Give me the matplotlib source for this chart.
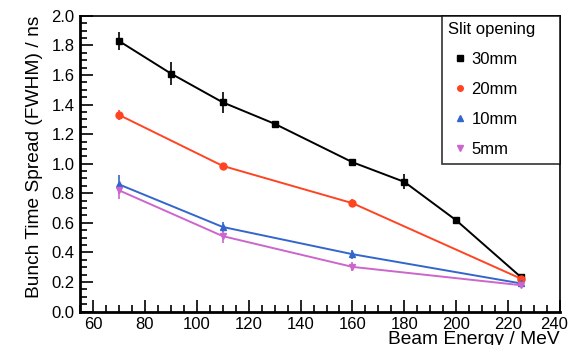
import matplotlib
matplotlib.use("Agg")
import matplotlib.pyplot as plt
import matplotlib.transforms as mtransforms
from matplotlib.ticker import MultipleLocator

plt.rcParams['font.family'] = ['Liberation Sans', 'DejaVu Sans']

# beam energy (MeV) and bunch time spread (ns) per slit opening
e_30 = [70, 90, 110, 130, 160, 180, 200, 225]
t_30 = [1.83, 1.61, 1.415, 1.27, 1.01, 0.877, 0.617, 0.232]
err_30 = [0.06, 0.075, 0.07, 0.012, 0.02, 0.05, 0.012, 0.02]

e_20 = [70, 110, 160, 225]
t_20 = [1.33, 0.985, 0.733, 0.222]
err_20 = [0.035, 0.018, 0.025, 0.02]

e_10 = [70, 110, 160, 225]
t_10 = [0.86, 0.572, 0.388, 0.19]
err_10 = [0.065, 0.035, 0.03, 0.015]

e_5 = [70, 110, 160, 225]
t_5 = [0.82, 0.51, 0.302, 0.178]
err_5 = [0.06, 0.045, 0.03, 0.015]

labels = ["30mm", "20mm", "10mm", "5mm"]
colors = ["black", "#ff4422", "#3366cc", "#cc66cc"]
markers = ["s", "o", "^", "v"]

fig = plt.figure(figsize=(5.72, 3.45), dpi=100)
ax = fig.add_axes([0.14, 0.097, 0.839, 0.857])

series = [(e_30, t_30, err_30), (e_20, t_20, err_20), (e_10, t_10, err_10), (e_5, t_5, err_5)]
for (x, y, e), lab, c, m in zip(series, labels, colors, markers):
    ax.errorbar(x, y, yerr=e, color=c, marker=m, markersize=5, lw=1.4,
                elinewidth=1.2, capsize=0, label=lab)

ax.set_xlim(55, 240)
ax.set_ylim(0, 2.0)
ax.xaxis.set_major_locator(MultipleLocator(20))
ax.xaxis.set_minor_locator(MultipleLocator(5))
ax.yaxis.set_major_locator(MultipleLocator(0.2))
ax.yaxis.set_minor_locator(MultipleLocator(0.05))
ax.yaxis.set_major_formatter(matplotlib.ticker.FormatStrFormatter('%.1f'))
ax.tick_params(which='both', direction='in', top=False, right=False, labelsize=12, width=1.2)
ax.tick_params(which='major', length=9, pad=4)
ax.tick_params(which='minor', length=5)
for s in ax.spines.values():
    s.set_linewidth(1.2)
ax.spines['left'].set_linewidth(2)
ax.spines['bottom'].set_linewidth(2)

ax.set_xlabel("Beam Energy / MeV", fontsize=13.8, loc='right', labelpad=-1)
ax.set_ylabel("Bunch Time Spread (FWHM) / ns", fontsize=13.8, loc='top', labelpad=6)

# last x label pulled a little inside, as ROOT does
fig.canvas.draw()
for t in ax.get_xticklabels():
    if t.get_text() == "240":
        t.set_transform(t.get_transform() + mtransforms.ScaledTranslation(-6 / 100, 0, fig.dpi_scale_trans))

h, l = ax.get_legend_handles_labels()
h = [hh[0] for hh in h]
leg = ax.legend(h, l, title="Slit opening", loc='upper right',
                bbox_to_anchor=(0.754, 0.0, 0.246, 1.0), mode='expand',
                fontsize=12, title_fontsize=12, frameon=True, fancybox=False,
                borderaxespad=0, handlelength=1.4, handletextpad=0.0, labelspacing=0.9,
                borderpad=0.38, markerscale=0.8)
leg.get_frame().set_edgecolor('black')
leg.get_frame().set_linewidth(1.2)
leg._legend_box.align = "left"
for hh in leg.legend_handles:
    hh.set_linestyle('none')

fig.savefig("out.png", dpi=100)
